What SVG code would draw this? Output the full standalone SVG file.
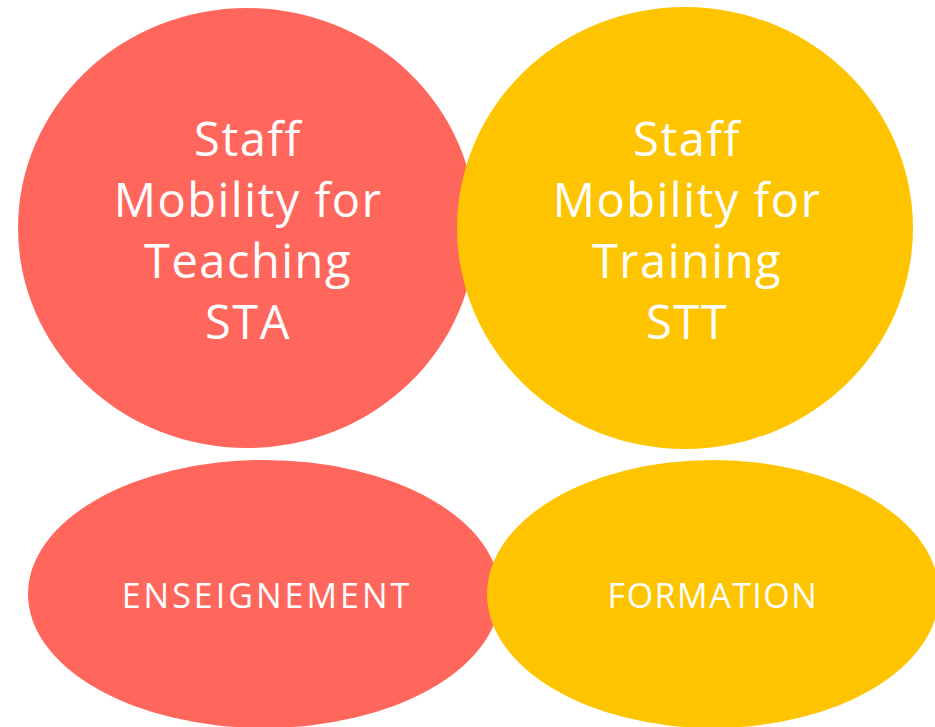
<svg xmlns="http://www.w3.org/2000/svg" width="935" height="727" viewBox="0 0 935 727">
<style>
.red{fill:#FF665C}
.yel{fill:#FFC400}
.big{font-family:"Open Sans","Liberation Sans",sans-serif;font-size:47px;fill:#fff;text-anchor:middle;letter-spacing:1.5px}
.sm{font-family:"Open Sans","Liberation Sans",sans-serif;font-size:34px;fill:#fff;text-anchor:middle;letter-spacing:3px}
</style>
<rect width="935" height="727" fill="#fff"/>
<g id="sta">
<ellipse class="red" cx="247" cy="228" rx="229" ry="220"/>
<text class="big"><tspan x="248" y="156">Staff</tspan><tspan x="248" y="217">Mobility for</tspan><tspan x="248" y="278">Teaching</tspan><tspan x="248" y="339">STA</tspan></text>
</g>
<g id="stt">
<ellipse class="yel" cx="685" cy="228" rx="228" ry="221"/>
<text class="big"><tspan x="687" y="156">Staff</tspan><tspan x="687" y="217">Mobility for</tspan><tspan x="687" y="278">Training</tspan><tspan x="687" y="339">STT</tspan></text>
</g>
<g id="enseignement">
<ellipse class="red" cx="264" cy="594" rx="236" ry="134"/>
<text class="sm" x="267" y="608">ENSEIGNEMENT</text>
</g>
<g id="formation">
<ellipse class="yel" cx="713" cy="594" rx="226" ry="134"/>
<text class="sm" x="713" y="608" style="letter-spacing:1.5px">FORMATION</text>
</g>
<g id="connectors"/>
</svg>
